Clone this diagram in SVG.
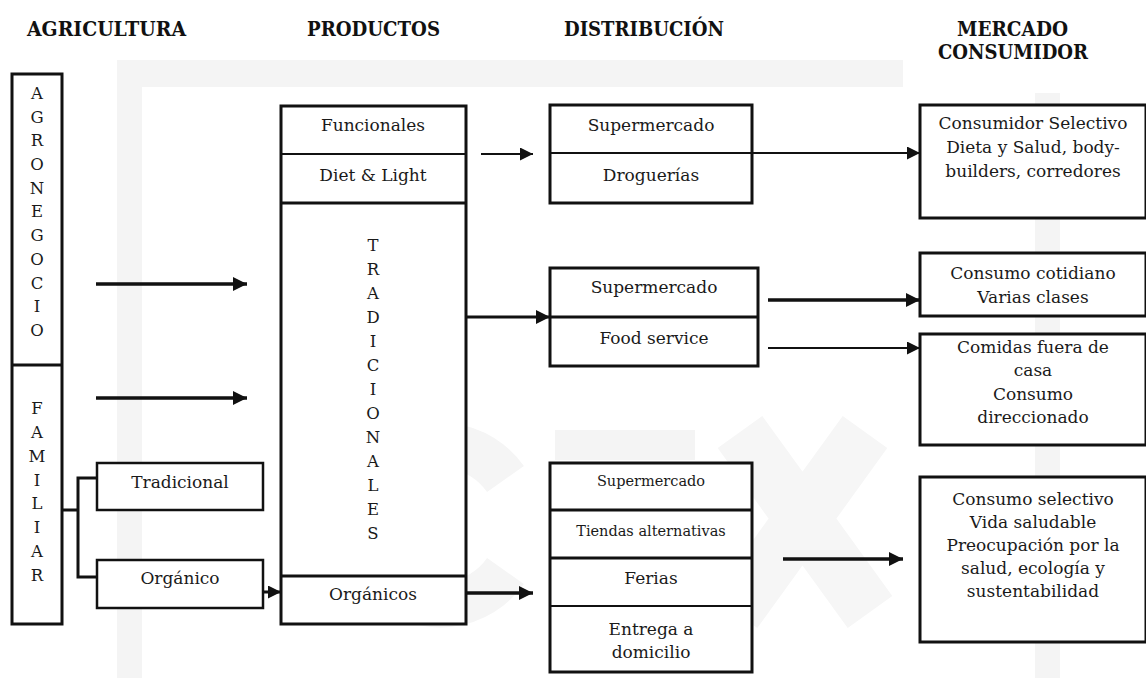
<svg xmlns="http://www.w3.org/2000/svg" width="1146" height="678" viewBox="0 0 1146 678">
<style>
.t{font-family:"DejaVu Serif","Liberation Serif",serif;font-size:17px;fill:#1a1a1a;text-anchor:middle}
.s{font-size:14.5px}
.v{font-family:"DejaVu Serif","Liberation Serif",serif;font-size:16.5px;fill:#1a1a1a;text-anchor:middle}
.h{font-family:"DejaVu Serif","Liberation Serif",serif;font-size:20px;font-weight:bold;fill:#111}
.box{fill:#fff;stroke:#111;stroke-width:3}
.div{stroke:#111;stroke-width:2;fill:none}
.divt{stroke:#111;stroke-width:3;fill:none}
.a{stroke:#111;stroke-width:3.5;fill:none}
.an{stroke:#111;stroke-width:2;fill:none}
.wm{fill:#f4f4f4}
</style>
<defs>
<marker id="ah" markerUnits="userSpaceOnUse" markerWidth="14" markerHeight="14" refX="14" refY="7" orient="auto">
<path d="M0,0 L14,7 L0,14 z" fill="#111"/>
</marker>
<marker id="ahs" markerUnits="userSpaceOnUse" markerWidth="13" markerHeight="13" refX="13" refY="6.5" orient="auto">
<path d="M0,0 L13,6.5 L0,13 z" fill="#111"/>
</marker>
</defs>
<rect width="1146" height="678" fill="#fff"/>
<g id="watermark">
<rect class="wm" x="117" y="60" width="25" height="618"/>
<rect class="wm" x="117" y="60" width="786" height="27"/>
<rect class="wm" x="1035" y="93" width="25" height="585"/>
<rect class="wm" x="555" y="430" width="140" height="30"/>
<path d="M505.5,479 A80,80 0 1 0 505.5,571" fill="none" stroke="#f5f5f5" stroke-width="45"/>
<path d="M740,432 L870,612 M865,432 L735,612" stroke="#f6f6f6" stroke-width="55" fill="none"/>
</g>
<g id="titles">
<text class="h" x="27" y="36" textLength="159" lengthAdjust="spacingAndGlyphs">AGRICULTURA</text>
<text class="h" x="307" y="36" textLength="133" lengthAdjust="spacingAndGlyphs">PRODUCTOS</text>
<text class="h" x="564" y="36" textLength="160" lengthAdjust="spacingAndGlyphs">DISTRIBUCIÓN</text>
<text class="h" x="957" y="36" textLength="111" lengthAdjust="spacingAndGlyphs">MERCADO</text>
<text class="h" x="938" y="59" textLength="150" lengthAdjust="spacingAndGlyphs">CONSUMIDOR</text>
</g>
<g id="agricultura">
<rect class="box" x="12" y="74" width="50" height="550"/>
<line class="divt" x1="12" y1="365" x2="62" y2="365"/>
<text class="v" x="37" y="99">A</text>
<text class="v" x="37" y="123">G</text>
<text class="v" x="37" y="146">R</text>
<text class="v" x="37" y="170">O</text>
<text class="v" x="37" y="194">N</text>
<text class="v" x="37" y="217">E</text>
<text class="v" x="37" y="241">G</text>
<text class="v" x="37" y="265">O</text>
<text class="v" x="37" y="289">C</text>
<text class="v" x="37" y="312">I</text>
<text class="v" x="37" y="336">O</text>
<text class="v" x="37" y="414">F</text>
<text class="v" x="37" y="438">A</text>
<text class="v" x="37" y="462">M</text>
<text class="v" x="37" y="486">I</text>
<text class="v" x="37" y="509">L</text>
<text class="v" x="37" y="533">I</text>
<text class="v" x="37" y="557">A</text>
<text class="v" x="37" y="581">R</text>
</g>
<g id="tradicional">
<rect class="box" x="97" y="463" width="166" height="47" style="stroke-width:2.5"/>
<text class="t" x="180" y="488">Tradicional</text>
</g>
<g id="organico">
<rect class="box" x="97" y="560" width="166" height="48" style="stroke-width:2.5"/>
<text class="t" x="180" y="584">Orgánico</text>
</g>
<g id="productos">
<rect class="box" x="281" y="106" width="185" height="518"/>
<line class="div" x1="281" y1="154" x2="466" y2="154"/>
<line class="divt" x1="281" y1="203" x2="466" y2="203"/>
<line class="divt" x1="281" y1="576" x2="466" y2="576"/>
<text class="t" x="373" y="131">Funcionales</text>
<text class="t" x="373" y="181">Diet &amp; Light</text>
<text class="t" x="373" y="600">Orgánicos</text>
<text class="v" x="373" y="251">T</text>
<text class="v" x="373" y="275">R</text>
<text class="v" x="373" y="299">A</text>
<text class="v" x="373" y="323">D</text>
<text class="v" x="373" y="347">I</text>
<text class="v" x="373" y="371">C</text>
<text class="v" x="373" y="395">I</text>
<text class="v" x="373" y="419">O</text>
<text class="v" x="373" y="443">N</text>
<text class="v" x="373" y="467">A</text>
<text class="v" x="373" y="491">L</text>
<text class="v" x="373" y="515">E</text>
<text class="v" x="373" y="539">S</text>
</g>
<g id="dist1">
<rect class="box" x="550" y="105" width="202" height="98"/>
<line class="div" x1="550" y1="153" x2="752" y2="153"/>
<text class="t" x="651" y="131">Supermercado</text>
<text class="t" x="651" y="181">Droguerías</text>
</g>
<g id="dist2">
<rect class="box" x="550" y="268" width="208" height="98"/>
<line class="divt" x1="550" y1="317" x2="758" y2="317"/>
<text class="t" x="654" y="293">Supermercado</text>
<text class="t" x="654" y="344">Food service</text>
</g>
<g id="dist3">
<rect class="box" x="550" y="463" width="202" height="209"/>
<line class="divt" x1="550" y1="510" x2="752" y2="510"/>
<line class="divt" x1="550" y1="558" x2="752" y2="558"/>
<line class="div" x1="550" y1="606" x2="752" y2="606"/>
<text class="t s" x="651" y="486">Supermercado</text>
<text class="t s" x="651" y="536">Tiendas alternativas</text>
<text class="t" x="651" y="584">Ferias</text>
<text class="t" x="651" y="635">Entrega a</text>
<text class="t" x="651" y="658">domicilio</text>
</g>
<g id="mercado1">
<rect class="box" x="920" y="105" width="226" height="113"/>
<text class="t" x="1033" y="129">Consumidor Selectivo</text>
<text class="t" x="1033" y="153">Dieta y Salud, body-</text>
<text class="t" x="1033" y="177">builders, corredores</text>
</g>
<g id="mercado2">
<rect class="box" x="920" y="253" width="226" height="63"/>
<text class="t" x="1033" y="279">Consumo cotidiano</text>
<text class="t" x="1033" y="303">Varias clases</text>
</g>
<g id="mercado3">
<rect class="box" x="920" y="334" width="226" height="111"/>
<text class="t" x="1033" y="353">Comidas fuera de</text>
<text class="t" x="1033" y="376">casa</text>
<text class="t" x="1033" y="400">Consumo</text>
<text class="t" x="1033" y="423">direccionado</text>
</g>
<g id="mercado4">
<rect class="box" x="920" y="477" width="226" height="165"/>
<text class="t" x="1033" y="505">Consumo selectivo</text>
<text class="t" x="1033" y="528">Vida saludable</text>
<text class="t" x="1033" y="551">Preocupación por la</text>
<text class="t" x="1033" y="574">salud, ecología y</text>
<text class="t" x="1033" y="597">sustentabilidad</text>
</g>
<g id="connectors">
<line class="a" x1="96" y1="284" x2="247" y2="284" marker-end="url(#ah)"/>
<line class="a" x1="96" y1="398" x2="247" y2="398" marker-end="url(#ah)"/>
<polyline class="divt" points="62,510 78,510"/>
<polyline class="divt" points="97,478 78,478 78,577 97,577"/>
<line class="divt" x1="263" y1="592" x2="281" y2="592" marker-end="url(#ahs)"/>
<line class="an" x1="481" y1="154" x2="533" y2="154" marker-end="url(#ahs)"/>
<line class="divt" x1="466" y1="317" x2="550" y2="317" marker-end="url(#ah)"/>
<line class="a" x1="466" y1="593" x2="533" y2="593" marker-end="url(#ah)"/>
<line class="an" x1="752" y1="153" x2="920" y2="153" marker-end="url(#ahs)"/>
<line class="a" x1="768" y1="300" x2="920" y2="300" marker-end="url(#ah)"/>
<line class="an" x1="768" y1="348" x2="920" y2="348" marker-end="url(#ahs)"/>
<line class="a" x1="783" y1="559" x2="903" y2="559" marker-end="url(#ah)"/>
</g>
</svg>
